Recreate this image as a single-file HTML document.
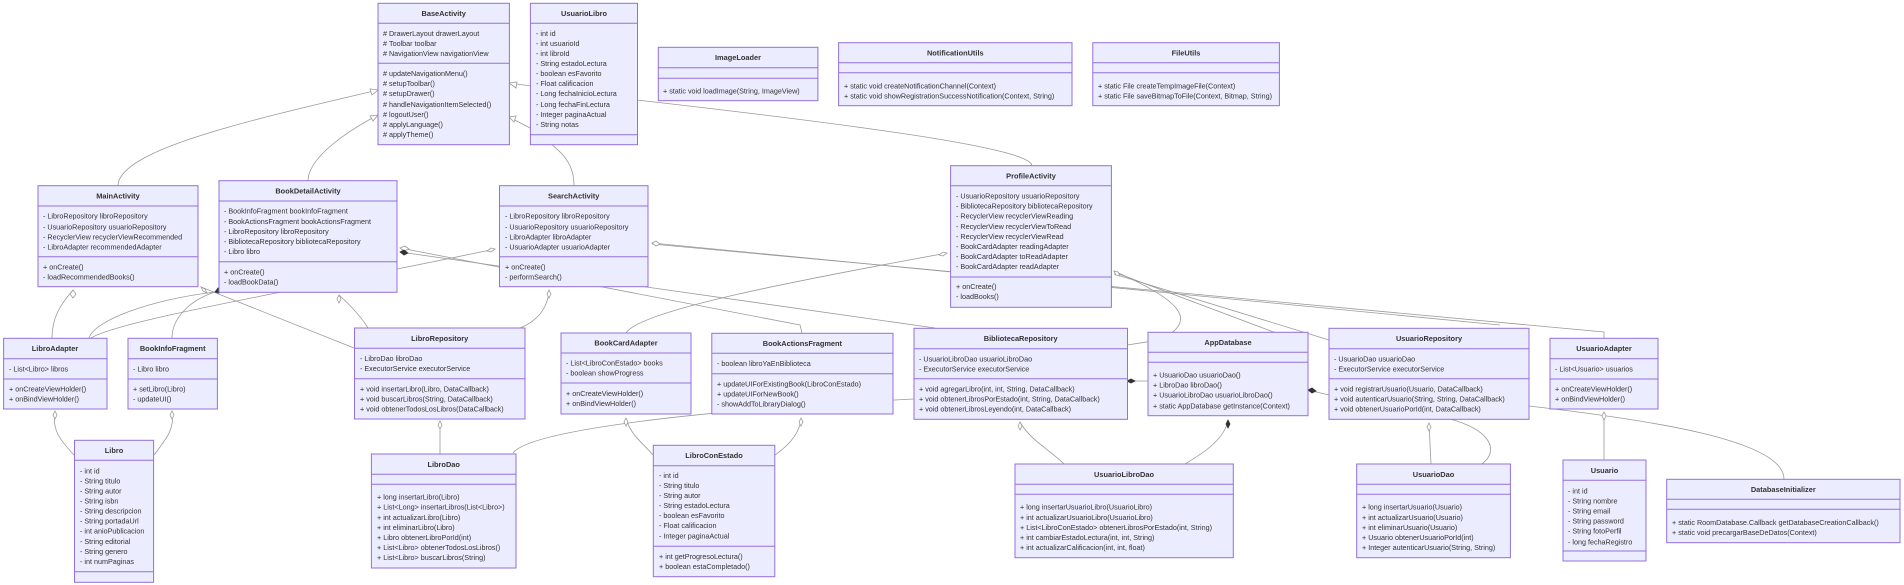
<!DOCTYPE html>
<html><head><meta charset="utf-8"><style>
html,body{margin:0;padding:0;background:#fff;}
svg{display:block;}
text{font-family:"Liberation Sans",Arial,sans-serif;font-size:7.2px;fill:#333;}
.t{font-weight:bold;text-anchor:middle;font-size:7.4px;}
.b{fill:#ECECFF;stroke:#9370DB;stroke-width:1;}
.d{stroke:#9370DB;stroke-width:1;}
.e{fill:none;stroke:#9a9a9a;stroke-width:0.8;}
.h{fill:#fff;stroke:#9a9a9a;stroke-width:0.8;}
.f{fill:#333;stroke:#333;stroke-width:0.8;}
</style></head><body>
<svg width="1904" height="585" viewBox="0 0 1904 585" xmlns="http://www.w3.org/2000/svg">
<g>
<path class="e" d="M118,186 C118,150 250,120 378,90"/>
<path class="e" d="M308,181 C308,160 340,135 378,115"/>
<path class="e" d="M574,186 C574,160 560,150 530,128 L509,117"/>
<path class="e" d="M1032,166 C1032,150 900,130 637,100 L509,83"/>
<path class="e" d="M73,290 C60,305 52,318 52,338"/>
<path class="e" d="M201,287 L354,348"/>
<path class="e" d="M215,292 C150,300 95,320 89,338"/>
<path class="e" d="M215,292 C190,300 172,318 172,338"/>
<path class="e" d="M339,295 C350,305 362,318 368,328"/>
<path class="e" d="M400,248 L800,325 L802,333"/>
<path class="e" d="M400,252 L935,328"/>
<path class="e" d="M91,338 C120,320 300,290 495,249"/>
<path class="e" d="M549,290 C548,310 535,322 520,328"/>
<path class="e" d="M652,243 L1500,325"/>
<path class="e" d="M652,244 L1604,332 L1604,338"/>
<path class="e" d="M947,253 C800,280 640,310 626,333"/>
<path class="e" d="M1114,271 C1180,300 1200,320 1160,340 L1127,345"/>
<path class="e" d="M1114,272 L1308,345"/>
<path class="e" d="M1114,274 L1329,340"/>
<path class="e" d="M440,421 L440,454"/>
<path class="e" d="M513,453 C530,430 700,410 914,399"/>
<path class="e" d="M626,418 C630,435 645,445 653,455"/>
<path class="e" d="M801,418 C800,435 785,448 775,455"/>
<path class="e" d="M1020,422 C1030,440 1050,450 1064,464"/>
<path class="e" d="M1228,420 C1225,440 1200,455 1185,464"/>
<path class="e" d="M1127,381 L1148,381"/>
<path class="e" d="M1308,390 L1329,395"/>
<path class="e" d="M1429,423 L1431,464"/>
<path class="e" d="M1450,419 C1490,430 1500,450 1482,464"/>
<path class="e" d="M1604,412 L1604,460"/>
<path class="e" d="M1529,406 C1650,420 1784,440 1784,479"/>
<path class="e" d="M55,412 C52,430 60,440 74,455"/>
<path class="e" d="M172,412 C175,430 165,440 154,455"/>
<polygon class="h" points="378,90 370,89 372,95"/>
<polygon class="h" points="378,115 370,116 373,121"/>
<polygon class="h" points="509,117 516,116 514,122"/>
<polygon class="h" points="509,83 517,82 516,88"/>
<polygon class="h" points="73,290 70,294 73,298 76,294"/>
<polygon class="h" points="201,287 205,289 207,293 203,291"/>
<polygon class="f" points="215,292 218,288 222,289 219,293"/>
<polygon class="h" points="339,295 341,299 339,303 337,299"/>
<polygon class="h" points="400,248 405,246 409,249 404,251"/>
<polygon class="f" points="400,252 404,250 408,253 404,255"/>
<polygon class="h" points="495,249 491,252 487,251 491,248"/>
<polygon class="h" points="549,290 551,294 549,298 547,294"/>
<polygon class="h" points="652,243 656,241 660,244 656,246"/>
<polygon class="h" points="947,253 943,256 939,255 943,252"/>
<polygon class="h" points="1114,271 1118,272 1120,276 1116,275"/>
<polygon class="h" points="440,421 442,425 440,429 438,425"/>
<polygon class="h" points="626,418 628,422 626,426 624,422"/>
<polygon class="h" points="801,418 803,422 801,426 799,422"/>
<polygon class="h" points="1020,422 1022,426 1020,430 1018,426"/>
<polygon class="f" points="1228,420 1230,424 1228,428 1226,424"/>
<polygon class="f" points="1127,381 1131,379 1135,381 1131,383"/>
<polygon class="f" points="1308,390 1312,388 1316,391 1312,393"/>
<polygon class="h" points="1429,423 1431,427 1429,431 1427,427"/>
<polygon class="h" points="1604,412 1606,416 1604,420 1602,416"/>
<polygon class="h" points="55,411 57,415 55,419 53,415"/>
<polygon class="h" points="172,411 174,415 172,419 170,415"/>
</g>
<g>
<rect class="b" x="378" y="3.3" width="131.4" height="141.4"/>
<line class="d" x1="378" y1="23.3" x2="509.4" y2="23.3"/><line class="d" x1="378" y1="63.3" x2="509.4" y2="63.3"/>
<text class="t" x="443.7" y="16">BaseActivity</text>
<text x="383" y="36">#&#160;DrawerLayout drawerLayout</text><text x="383" y="46">#&#160;Toolbar toolbar</text><text x="383" y="56">#&#160;NavigationView navigationView</text>
<text x="383" y="76">#&#160;updateNavigationMenu()</text><text x="383" y="86">#&#160;setupToolbar()</text><text x="383" y="96">#&#160;setupDrawer()</text><text x="383" y="107">#&#160;handleNavigationItemSelected()</text><text x="383" y="117">#&#160;logoutUser()</text><text x="383" y="127">#&#160;applyLanguage()</text><text x="383" y="137">#&#160;applyTheme()</text>
<rect class="b" x="530.4" y="3.3" width="107.1" height="141.4"/>
<line class="d" x1="530.4" y1="23.3" x2="637.5" y2="23.3"/><line class="d" x1="530.4" y1="134.7" x2="637.5" y2="134.7"/>
<text class="t" x="584" y="16">UsuarioLibro</text>
<text x="536" y="36">- int id</text><text x="536" y="46">- int usuarioId</text><text x="536" y="56">- int libroId</text><text x="536" y="66">- String estadoLectura</text><text x="536" y="76">- boolean esFavorito</text><text x="536" y="86">- Float calificacion</text><text x="536" y="96">- Long fechaInicioLectura</text><text x="536" y="107">- Long fechaFinLectura</text><text x="536" y="117">- Integer paginaActual</text><text x="536" y="127">- String notas</text>
<rect class="b" x="658.3" y="47.3" width="159.6" height="53.4"/>
<line class="d" x1="658.3" y1="67.7" x2="817.9" y2="67.7"/><line class="d" x1="658.3" y1="78.3" x2="817.9" y2="78.3"/>
<text class="t" x="738" y="60">ImageLoader</text>
<text x="663" y="93.4">+ static void loadImage(String, ImageView)</text>
<rect class="b" x="838.6" y="42.7" width="233.4" height="63"/>
<line class="d" x1="838.6" y1="62.7" x2="1072" y2="62.7"/><line class="d" x1="838.6" y1="72.7" x2="1072" y2="72.7"/>
<text class="t" x="955.3" y="55.4">NotificationUtils</text>
<text x="844" y="88.4">+ static void createNotificationChannel(Context)</text><text x="844" y="98.4">+ static void showRegistrationSuccessNotification(Context, String)</text>
<rect class="b" x="1092.8" y="42.7" width="186.6" height="63"/>
<line class="d" x1="1092.8" y1="62.7" x2="1279.4" y2="62.7"/><line class="d" x1="1092.8" y1="72.7" x2="1279.4" y2="72.7"/>
<text class="t" x="1186" y="55.4">FileUtils</text>
<text x="1098" y="88.4">+ static File createTempImageFile(Context)</text><text x="1098" y="98.4">+ static File saveBitmapToFile(Context, Bitmap, String)</text>
<rect class="b" x="38" y="185.7" width="160" height="101"/>
<line class="d" x1="38" y1="206" x2="198" y2="206"/><line class="d" x1="38" y1="256.7" x2="198" y2="256.7"/>
<text class="t" x="118" y="198.5">MainActivity</text>
<text x="43" y="218.4">- LibroRepository libroRepository</text><text x="43" y="229.4">- UsuarioRepository usuarioRepository</text><text x="43" y="239.4">- RecyclerView recyclerViewRecommended</text><text x="43" y="249.4">- LibroAdapter recommendedAdapter</text>
<text x="43" y="269.4">+ onCreate()</text><text x="43" y="279.4">- loadRecommendedBooks()</text>
<rect class="b" x="219" y="180.7" width="178" height="111.6"/>
<line class="d" x1="219" y1="201" x2="397" y2="201"/><line class="d" x1="219" y1="261.7" x2="397" y2="261.7"/>
<text class="t" x="308" y="193.5">BookDetailActivity</text>
<text x="224" y="213.4">- BookInfoFragment bookInfoFragment</text><text x="224" y="224">- BookActionsFragment bookActionsFragment</text><text x="224" y="234">- LibroRepository libroRepository</text><text x="224" y="244">- BibliotecaRepository bibliotecaRepository</text><text x="224" y="254">- Libro libro</text>
<text x="224" y="274.4">+ onCreate()</text><text x="224" y="284.4">- loadBookData()</text>
<rect class="b" x="499.5" y="185.7" width="148.5" height="101"/>
<line class="d" x1="499.5" y1="206" x2="648" y2="206"/><line class="d" x1="499.5" y1="256.7" x2="648" y2="256.7"/>
<text class="t" x="573.7" y="198.5">SearchActivity</text>
<text x="505" y="218.4">- LibroRepository libroRepository</text><text x="505" y="229.4">- UsuarioRepository usuarioRepository</text><text x="505" y="239.4">- LibroAdapter libroAdapter</text><text x="505" y="249.4">- UsuarioAdapter usuarioAdapter</text>
<text x="505" y="269.4">+ onCreate()</text><text x="505" y="279.4">- performSearch()</text>
<rect class="b" x="950.6" y="165.7" width="160.8" height="141.6"/>
<line class="d" x1="950.6" y1="185.7" x2="1111.4" y2="185.7"/><line class="d" x1="950.6" y1="277" x2="1111.4" y2="277"/>
<text class="t" x="1031" y="178.4">ProfileActivity</text>
<text x="956" y="198.4">- UsuarioRepository usuarioRepository</text><text x="956" y="208.4">- BibliotecaRepository bibliotecaRepository</text><text x="956" y="218.4">- RecyclerView recyclerViewReading</text><text x="956" y="229">- RecyclerView recyclerViewToRead</text><text x="956" y="239">- RecyclerView recyclerViewRead</text><text x="956" y="249">- BookCardAdapter readingAdapter</text><text x="956" y="259">- BookCardAdapter toReadAdapter</text><text x="956" y="269">- BookCardAdapter readAdapter</text>
<text x="956" y="289">+ onCreate()</text><text x="956" y="299">- loadBooks()</text>
<rect class="b" x="3.6" y="338.3" width="103.4" height="70.7"/>
<line class="d" x1="3.6" y1="358.7" x2="107" y2="358.7"/><line class="d" x1="3.6" y1="379" x2="107" y2="379"/>
<text class="t" x="55" y="351">LibroAdapter</text>
<text x="9" y="371.4">- List&lt;Libro&gt; libros</text><text x="9" y="391.4">+ onCreateViewHolder()</text><text x="9" y="401.4">+ onBindViewHolder()</text>
<rect class="b" x="128" y="338.3" width="89.4" height="70.7"/>
<line class="d" x1="128" y1="358.7" x2="217.4" y2="358.7"/><line class="d" x1="128" y1="379" x2="217.4" y2="379"/>
<text class="t" x="172.7" y="351">BookInfoFragment</text>
<text x="133" y="371.4">- Libro libro</text><text x="133" y="391.4">+ setLibro(Libro)</text><text x="133" y="401.4">- updateUI()</text>
<rect class="b" x="74.5" y="440.3" width="79.1" height="142"/>
<line class="d" x1="74.5" y1="460.3" x2="153.6" y2="460.3"/><line class="d" x1="74.5" y1="571.7" x2="153.6" y2="571.7"/>
<text class="t" x="114" y="453">Libro</text>
<text x="80" y="473.4">- int id</text><text x="80" y="483.4">- String titulo</text><text x="80" y="493.4">- String autor</text><text x="80" y="503.4">- String isbn</text><text x="80" y="513.4">- String descripcion</text><text x="80" y="523.4">- String portadaUrl</text><text x="80" y="533.4">- int anioPublicacion</text><text x="80" y="544">- String editorial</text><text x="80" y="554">- String genero</text><text x="80" y="564">- int numPaginas</text>
<rect class="b" x="354.5" y="328" width="170.5" height="91"/>
<line class="d" x1="354.5" y1="348.3" x2="525" y2="348.3"/><line class="d" x1="354.5" y1="378.7" x2="525" y2="378.7"/>
<text class="t" x="439.7" y="341">LibroRepository</text>
<text x="360" y="361">- LibroDao libroDao</text><text x="360" y="371">- ExecutorService executorService</text>
<text x="360" y="391.4">+ void insertarLibro(Libro, DataCallback)</text><text x="360" y="401.4">+ void buscarLibros(String, DataCallback)</text><text x="360" y="411.4">+ void obtenerTodosLosLibros(DataCallback)</text>
<rect class="b" x="371.4" y="454" width="144.6" height="114"/>
<line class="d" x1="371.4" y1="474.3" x2="516" y2="474.3"/><line class="d" x1="371.4" y1="484.3" x2="516" y2="484.3"/>
<text class="t" x="443.7" y="467">LibroDao</text>
<text x="377" y="499.4">+ long insertarLibro(Libro)</text><text x="377" y="509.4">+ List&lt;Long&gt; insertarLibros(List&lt;Libro&gt;)</text><text x="377" y="520">+ int actualizarLibro(Libro)</text><text x="377" y="530">+ int eliminarLibro(Libro)</text><text x="377" y="540">+ Libro obtenerLibroPorId(int)</text><text x="377" y="550">+ List&lt;Libro&gt; obtenerTodosLosLibros()</text><text x="377" y="560">+ List&lt;Libro&gt; buscarLibros(String)</text>
<rect class="b" x="561" y="333" width="130" height="81"/>
<line class="d" x1="561" y1="353" x2="691" y2="353"/><line class="d" x1="561" y1="383" x2="691" y2="383"/>
<text class="t" x="626" y="345.7">BookCardAdapter</text>
<text x="566" y="365.7">- List&lt;LibroConEstado&gt; books</text><text x="566" y="375.7">- boolean showProgress</text>
<text x="566" y="396">+ onCreateViewHolder()</text><text x="566" y="406">+ onBindViewHolder()</text>
<rect class="b" x="711.8" y="333.3" width="181.2" height="80.7"/>
<line class="d" x1="711.8" y1="353.3" x2="893" y2="353.3"/><line class="d" x1="711.8" y1="373.7" x2="893" y2="373.7"/>
<text class="t" x="802.4" y="346">BookActionsFragment</text>
<text x="717" y="366">- boolean libroYaEnBiblioteca</text>
<text x="717" y="386.4">+ updateUIForExistingBook(LibroConEstado)</text><text x="717" y="396.4">+ updateUIForNewBook()</text><text x="717" y="406.4">- showAddToLibraryDialog()</text>
<rect class="b" x="653.3" y="445.3" width="121.5" height="131.4"/>
<line class="d" x1="653.3" y1="465.7" x2="774.8" y2="465.7"/><line class="d" x1="653.3" y1="546.3" x2="774.8" y2="546.3"/>
<text class="t" x="714" y="458">LibroConEstado</text>
<text x="659" y="478">- int id</text><text x="659" y="488">- String titulo</text><text x="659" y="498">- String autor</text><text x="659" y="508">- String estadoLectura</text><text x="659" y="518">- boolean esFavorito</text><text x="659" y="528">- Float calificacion</text><text x="659" y="538.4">- Integer paginaActual</text>
<text x="659" y="559">+ int getProgresoLectura()</text><text x="659" y="569">+ boolean estaCompletado()</text>
<rect class="b" x="914" y="328.3" width="213.5" height="91"/>
<line class="d" x1="914" y1="348.7" x2="1127.5" y2="348.7"/><line class="d" x1="914" y1="378.7" x2="1127.5" y2="378.7"/>
<text class="t" x="1020.7" y="341">BibliotecaRepository</text>
<text x="919" y="361.4">- UsuarioLibroDao usuarioLibroDao</text><text x="919" y="371.4">- ExecutorService executorService</text>
<text x="919" y="391.4">+ void agregarLibro(int, int, String, DataCallback)</text><text x="919" y="401.4">+ void obtenerLibrosPorEstado(int, String, DataCallback)</text><text x="919" y="411.4">+ void obtenerLibrosLeyendo(int, DataCallback)</text>
<rect class="b" x="1148" y="332.3" width="160" height="83.4"/>
<line class="d" x1="1148" y1="352.3" x2="1308" y2="352.3"/><line class="d" x1="1148" y1="362.3" x2="1308" y2="362.3"/>
<text class="t" x="1228" y="345">AppDatabase</text>
<text x="1153" y="377.4">+ UsuarioDao usuarioDao()</text><text x="1153" y="387.4">+ LibroDao libroDao()</text><text x="1153" y="397.4">+ UsuarioLibroDao usuarioLibroDao()</text><text x="1153" y="408.4">+ static AppDatabase getInstance(Context)</text>
<rect class="b" x="1015" y="464" width="218.3" height="93.7"/>
<line class="d" x1="1015" y1="484.3" x2="1233.3" y2="484.3"/><line class="d" x1="1015" y1="494.3" x2="1233.3" y2="494.3"/>
<text class="t" x="1124" y="477">UsuarioLibroDao</text>
<text x="1020" y="509.4">+ long insertarUsuarioLibro(UsuarioLibro)</text><text x="1020" y="520">+ int actualizarUsuarioLibro(UsuarioLibro)</text><text x="1020" y="530">+ List&lt;LibroConEstado&gt; obtenerLibrosPorEstado(int, String)</text><text x="1020" y="540">+ int cambiarEstadoLectura(int, int, String)</text><text x="1020" y="550">+ int actualizarCalificacion(int, int, float)</text>
<rect class="b" x="1329" y="328.3" width="200" height="91"/>
<line class="d" x1="1329" y1="348.7" x2="1529" y2="348.7"/><line class="d" x1="1329" y1="378.7" x2="1529" y2="378.7"/>
<text class="t" x="1429" y="341">UsuarioRepository</text>
<text x="1334" y="361.4">- UsuarioDao usuarioDao</text><text x="1334" y="371.4">- ExecutorService executorService</text>
<text x="1334" y="391.4">+ void registrarUsuario(Usuario, DataCallback)</text><text x="1334" y="401.4">+ void autenticarUsuario(String, String, DataCallback)</text><text x="1334" y="411.4">+ void obtenerUsuarioPorId(int, DataCallback)</text>
<rect class="b" x="1550" y="338.3" width="108" height="70.7"/>
<line class="d" x1="1550" y1="358.7" x2="1658" y2="358.7"/><line class="d" x1="1550" y1="379" x2="1658" y2="379"/>
<text class="t" x="1604" y="351">UsuarioAdapter</text>
<text x="1555" y="371.4">- List&lt;Usuario&gt; usuarios</text><text x="1555" y="391.4">+ onCreateViewHolder()</text><text x="1555" y="401.4">+ onBindViewHolder()</text>
<rect class="b" x="1356.7" y="464" width="153.7" height="93.7"/>
<line class="d" x1="1356.7" y1="484.3" x2="1510.4" y2="484.3"/><line class="d" x1="1356.7" y1="494.3" x2="1510.4" y2="494.3"/>
<text class="t" x="1433.5" y="477">UsuarioDao</text>
<text x="1362" y="509.4">+ long insertarUsuario(Usuario)</text><text x="1362" y="520">+ int actualizarUsuario(Usuario)</text><text x="1362" y="530">+ int eliminarUsuario(Usuario)</text><text x="1362" y="540">+ Usuario obtenerUsuarioPorId(int)</text><text x="1362" y="550">+ Integer autenticarUsuario(String, String)</text>
<rect class="b" x="1563" y="460" width="83" height="101"/>
<line class="d" x1="1563" y1="480.3" x2="1646" y2="480.3"/><line class="d" x1="1563" y1="551" x2="1646" y2="551"/>
<text class="t" x="1604.5" y="473">Usuario</text>
<text x="1568" y="493.4">- int id</text><text x="1568" y="503.4">- String nombre</text><text x="1568" y="513.4">- String email</text><text x="1568" y="523.4">- String password</text><text x="1568" y="533.4">- String fotoPerfil</text><text x="1568" y="544.4">- long fechaRegistro</text>
<rect class="b" x="1666.7" y="479.3" width="233.3" height="63.4"/>
<line class="d" x1="1666.7" y1="499.3" x2="1900" y2="499.3"/><line class="d" x1="1666.7" y1="509.3" x2="1900" y2="509.3"/>
<text class="t" x="1783.3" y="492">DatabaseInitializer</text>
<text x="1672" y="525">+ static RoomDatabase.Callback getDatabaseCreationCallback()</text><text x="1672" y="535">+ static void precargarBaseDeDatos(Context)</text>
</g>
</svg>
</body></html>
